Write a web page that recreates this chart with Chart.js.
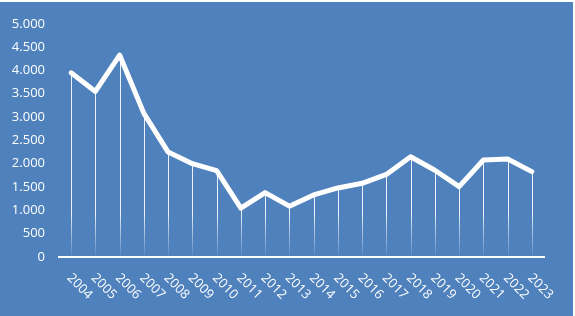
<!DOCTYPE html>
<html>
<head>
<meta charset="utf-8">
<script src="https://cdn.jsdelivr.net/npm/chart.js@4"></script>
<style>
    body { margin: 0; background: #ffffff; }
    .chart-box { position: absolute; left: 0; top: 2px; width: 573px; height: 314px; background: #4f81bd; }
</style>
</head>
<body>
<div class="chart-box"><canvas id="chart" width="573" height="314"></canvas></div>
<script>
const years = ['2004', '2005', '2006', '2007', '2008', '2009', '2010', '2011', '2012', '2013',
    '2014', '2015', '2016', '2017', '2018', '2019', '2020', '2021', '2022', '2023'];
const values = [3950, 3550, 4330, 3080, 2250, 2000, 1850, 1050, 1380, 1090,
    1330, 1480, 1580, 1770, 2150, 1860, 1510, 2080, 2100, 1830];
const yTicks = [0, 500, 1000, 1500, 2000, 2500, 3000, 3500, 4000, 4500, 5000];

const fontFamily = '"Open Sans", sans-serif';

function formatThousands(v) {
    return String(v).replace(/\B(?=(\d{3})+(?!\d))/g, '.');
}

// thin fading lines from each point down to the axis
const dropLines = {
    id: 'dropLines',
    beforeDatasetsDraw(chart) {
        const ctx = chart.ctx;
        const x = chart.scales.x;
        const y = chart.scales.y;
        const bottom = y.getPixelForValue(0);
        const grad = ctx.createLinearGradient(0, bottom - 45, 0, bottom);
        grad.addColorStop(0, 'rgba(255,255,255,0.9)');
        grad.addColorStop(1, 'rgba(255,255,255,0.05)');
        ctx.save();
        ctx.strokeStyle = grad;
        ctx.lineWidth = 1;
        values.forEach((v, i) => {
            const px = Math.round(x.getPixelForValue(i)) + 0.5;
            ctx.beginPath();
            ctx.moveTo(px, y.getPixelForValue(v));
            ctx.lineTo(px, bottom);
            ctx.stroke();
        });
        ctx.restore();
    },
    afterDraw(chart) {
        // category labels, turned 45 degrees clockwise
        const ctx = chart.ctx;
        const x = chart.scales.x;
        const bottom = chart.scales.y.getPixelForValue(0);
        ctx.save();
        ctx.fillStyle = '#ffffff';
        ctx.font = '13px ' + fontFamily;
        ctx.textAlign = 'left';
        ctx.textBaseline = 'middle';
        years.forEach((label, i) => {
            ctx.save();
            ctx.translate(x.getPixelForValue(i) - 2, bottom + 19);
            ctx.rotate(Math.PI / 4);
            ctx.fillText(label, 0, 0);
            ctx.restore();
        });
        ctx.restore();
    }
};

new Chart(document.getElementById('chart'), {
    type: 'line',
    data: {
        labels: years,
        datasets: [{
            data: values,
            borderColor: '#ffffff',
            borderWidth: 5,
            borderJoinStyle: 'round',
            borderCapStyle: 'round',
            pointRadius: 0,
            tension: 0
        }]
    },
    options: {
        responsive: false,
        animation: false,
        layout: { padding: { top: 11, right: 29, left: 0, bottom: 0 } },
        plugins: {
            legend: { display: false },
            tooltip: { enabled: false }
        },
        scales: {
            x: {
                offset: true,
                grid: { display: false, drawTicks: false },
                border: { display: true, color: '#ffffff', width: 2 },
                ticks: { display: false },
                afterFit(scale) { scale.height = 59; }
            },
            y: {
                min: 0,
                max: 5000,
                grid: { display: false, drawTicks: false },
                border: { display: false },
                afterBuildTicks(scale) { scale.ticks = yTicks.map(v => ({ value: v })); },
                ticks: {
                    color: '#ffffff',
                    padding: 14,
                    font: { family: fontFamily, size: 13 },
                    callback: v => formatThousands(v)
                },
                afterFit(scale) { scale.width = 59; }
            }
        }
    },
    plugins: [dropLines]
});
</script>
</body>
</html>
